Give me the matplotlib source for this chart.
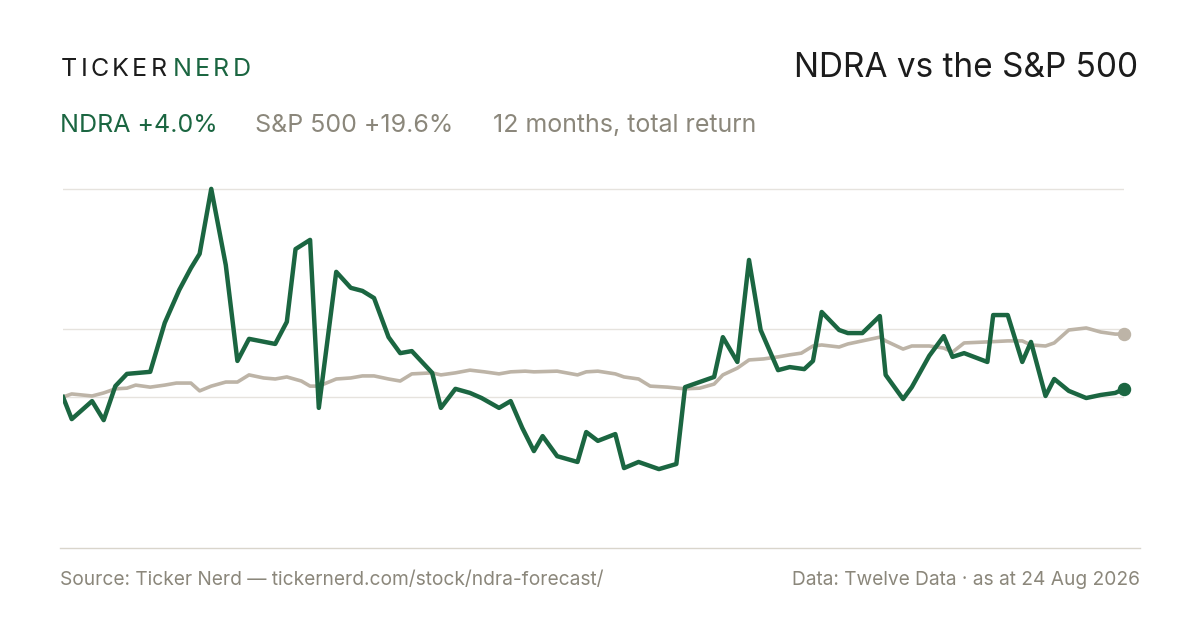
import matplotlib
matplotlib.use("Agg")
import matplotlib.pyplot as plt
from matplotlib.lines import Line2D

GREEN = "#1b6641"
SAND = "#bdb4a7"
MUTED = "#8b877b"
DARK = "#1c1c1c"

# day of the 12-month window, total return in %
ndra_days = [0, 3, 10, 14, 18, 22, 30, 35, 40, 44,
             47, 51, 56, 60, 64, 73, 77, 80, 85, 88,
             94, 99, 103, 107, 112, 116, 120, 127, 130, 135,
             140, 144, 150, 154, 158, 162, 165, 170, 177, 180,
             184, 190, 193, 198, 205, 211, 214, 224, 227, 232,
             236, 240, 246, 250, 255, 258, 261, 267, 270, 275,
             281, 283, 289, 292, 298, 303, 306, 310, 318, 320,
             325, 330, 333, 338, 341, 346, 352, 357, 362, 365]
ndra_ret = [0.0, -6.5, -1.2, -6.8, 3.2, 6.8, 7.4, 21.8, 31.5, 37.9,
            42.1, 61.2, 38.8, 10.6, 17.1, 15.6, 22.1, 43.5, 46.2, -3.2,
            36.8, 32.1, 31.2, 29.1, 17.6, 12.9, 13.5, 7.1, -3.2, 2.4,
            1.2, -0.3, -3.2, -1.2, -9.1, -15.9, -11.5, -17.4, -19.1, -10.3,
            -12.9, -10.9, -20.9, -19.1, -21.2, -19.7, 2.9, 5.9, 17.6, 10.3,
            40.3, 19.7, 7.9, 8.8, 8.2, 10.6, 25.0, 19.7, 18.8, 18.8,
            23.8, 6.5, -0.6, 2.9, 12.1, 17.9, 11.8, 12.9, 10.3, 24.1,
            24.1, 10.3, 16.2, 0.3, 5.3, 1.8, -0.3, 0.6, 1.2, 2.4]

spx_days = [0, 3, 10, 14, 18, 22, 25, 30, 35, 39,
            44, 47, 51, 56, 60, 64, 69, 73, 77, 82,
            85, 88, 94, 99, 103, 107, 112, 116, 120, 127,
            130, 135, 140, 145, 150, 154, 159, 162, 170, 177,
            180, 184, 190, 193, 198, 202, 208, 214, 219, 224,
            227, 232, 236, 241, 246, 250, 254, 258, 261, 267,
            270, 275, 281, 283, 289, 292, 298, 303, 306, 310,
            318, 325, 330, 333, 338, 341, 346, 352, 357, 362, 365]
spx_ret = [0.0, 0.9, 0.3, 1.2, 2.4, 2.6, 3.5, 2.9, 3.5, 4.1,
           4.1, 1.8, 3.2, 4.4, 4.4, 6.5, 5.6, 5.3, 5.9, 4.7,
           3.2, 3.2, 5.3, 5.6, 6.2, 6.2, 5.3, 4.7, 6.8, 7.1,
           6.5, 7.1, 7.9, 7.4, 6.8, 7.4, 7.6, 7.4, 7.6, 6.5,
           7.4, 7.6, 6.8, 5.9, 5.3, 3.2, 2.9, 2.4, 2.6, 3.8,
           6.5, 8.5, 10.9, 11.2, 11.8, 12.4, 12.9, 15.0, 15.3, 14.7,
           15.6, 16.5, 17.6, 16.5, 14.1, 15.0, 15.0, 14.4, 13.2, 15.9,
           16.2, 16.5, 16.5, 15.3, 15.0, 15.9, 19.7, 20.3, 19.1, 18.5, 18.5]

grid_levels = [0, 20, 61.2]

plt.rcParams["font.family"] = ["Inter", "DejaVu Sans"]

fig = plt.figure(figsize=(12, 6.3), dpi=100)
fig.patch.set_facecolor("white")
ax = fig.add_axes([63 / 1200, 82 / 630, 1061 / 1200, 370 / 630])
ax.set_xlim(0, 365)
ax.set_ylim(-44.4, 64.4)
for lvl in grid_levels:
    ax.axhline(lvl, color="#e6e3de", lw=1, zorder=0)
ax.plot(spx_days, spx_ret, color=SAND, lw=2.6, solid_joinstyle="round", zorder=2)
ax.plot(ndra_days, ndra_ret, color=GREEN, lw=3.2, solid_joinstyle="round", zorder=3)
ax.scatter([spx_days[-1]], [spx_ret[-1]], s=75, color=SAND, zorder=4, clip_on=False)
ax.scatter([ndra_days[-1]], [ndra_ret[-1]], s=75, color=GREEN, zorder=5, clip_on=False)
ax.set_axis_off()

fig.add_artist(Line2D([60 / 1200, 1140 / 1200], [82 / 630, 82 / 630], color="#d9d5cc", lw=1))

# letter-spaced wordmark: place each glyph after the previous one's measured width
renderer = fig.canvas.get_renderer()
x_px = 61
for word, col in (("TICKER", DARK), ("NERD", GREEN)):
    for ch in word:
        t = fig.text(x_px / 1200, 1 - 70 / 630, ch, color=col, fontsize=18, va="center")
        x_px += t.get_window_extent(renderer).width + 3.2
    x_px += 3

fig.text(1138 / 1200, 1 - 68 / 630, "NDRA vs the S&P 500", color=DARK, fontsize=24,
         ha="right", va="center")
fig.text(60 / 1200, 1 - 125 / 630, "NDRA +4.0%", color=GREEN, fontsize=18, va="center")
fig.text(255 / 1200, 1 - 125 / 630, "S&P 500 +19.6%", color=MUTED, fontsize=18, va="center")
fig.text(493 / 1200, 1 - 125 / 630, "12 months, total return", color=MUTED, fontsize=18,
         va="center")
fig.text(60 / 1200, 1 - 580 / 630, "Source: Ticker Nerd \u2014 tickernerd.com/stock/ndra-forecast/",
         color=MUTED, fontsize=13.8, va="center")
fig.text(1140 / 1200, 1 - 580 / 630, "Data: Twelve Data \u00b7 as at 24 Aug 2026",
         color=MUTED, fontsize=13.8, ha="right", va="center")

fig.savefig("out.png", dpi=100, facecolor="white")
